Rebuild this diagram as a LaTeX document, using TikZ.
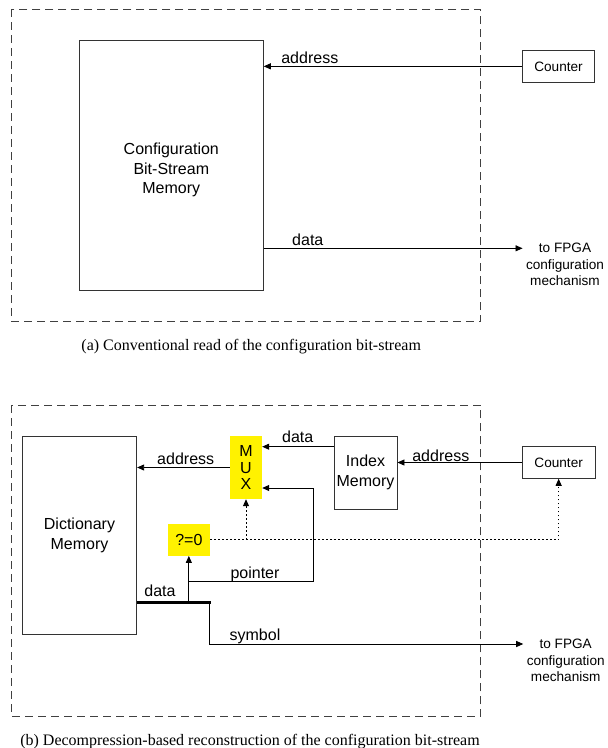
\documentclass[tikz,border=0pt]{standalone}
\usepackage{fontspec}
\setmainfont{Liberation Sans}
\newfontfamily\capfont{Liberation Serif}
\usetikzlibrary{arrows.meta,calc}

\begin{document}
\begin{tikzpicture}[x=1bp,y=-1bp,
  every node/.style={font=\fontsize{16bp}{19.5bp}\selectfont},
  block/.style={draw=black!80, line width=0.9bp, inner sep=0pt, align=center},
  hilite/.style={fill=yellow, inner sep=0pt, align=center},
  lab/.style={anchor=base, inner sep=0pt},
  small/.style={font=\fontsize{13.6bp}{16.5bp}\selectfont, align=center},
  wire/.style={line width=0.9bp, -{Triangle[length=7bp,width=6bp]}},
  ctl/.style={wire, dash pattern=on 1.5bp off 2.5bp},
  frame/.style={draw=black!75, line width=0.9bp, dash pattern=on 8bp off 5bp},
  bus/.style={line width=3bp},
  caption/.style={font=\capfont\fontsize{16bp}{19bp}\selectfont, anchor=base, inner sep=0pt}
]
\useasboundingbox (0,0) rectangle (608,748);

% ---------- (a) conventional read ----------
\draw[frame] (11.7,9.3) rectangle (480.7,321.7);
\node[block, minimum width=184bp, minimum height=250bp] (cfg) at (171.3,165.7) {};
\node[align=center] (cfgtxt) at ($(cfg.center)+(0,4.5)$)
  {Configuration\\Bit-Stream\\Memory};
\node[block, small, minimum width=72.5bp, minimum height=31.3bp] (ctrA) at (558.5,66.35) {Counter};
\node[small] (fpgaA) at (565,264.7) {to FPGA\\configuration\\mechanism};

\draw[wire] (ctrA.west) -- (ctrA.west -| cfg.east);
\draw[wire] (cfg.east |- 0,248.3) -- (fpgaA.west |- 0,248.3);

\node[lab] (addrA) at (309.8,64) {address};
\node[lab] (dataA) at (307.8,245.5) {data};
\node[caption] (capA) at (251.2,350.5) {(a) Conventional read of the configuration bit-stream};

% ---------- (b) decompression-based reconstruction ----------
\draw[frame] (11.7,405) rectangle (480.7,716.7);
\node[block, minimum width=114.4bp, minimum height=197.3bp] (dict) at (79.5,535.35)
  {Dictionary\\Memory};
\node[hilite, minimum width=32bp, minimum height=63bp,
      font=\fontsize{16bp}{16.7bp}\selectfont] (mux) at (246,467.5) {M\\U\\X};
\node[block, minimum width=63bp, minimum height=73bp] (idx) at (365.5,472.5) {Index\\Memory};
\node[block, small, minimum width=72.7bp, minimum height=31.6bp] (ctrB) at (558.65,462.5) {Counter};
\node[hilite, minimum width=42.3bp, minimum height=31.7bp] (zero) at (188.85,539.85) {?=0};
\node[small] (fpgaB) at (565.7,660.8) {to FPGA\\configuration\\mechanism};

\coordinate (busL) at (dict.east |- 0,602.7);
\coordinate (busR) at (210.7,602.7);
\coordinate (ptr) at (313,488);
\coordinate (sym) at (209.3,602.7);

\draw[wire] (ctrB.west) -- (ctrB.west -| idx.east);
\draw[wire] (idx.west |- 0,446.7) -- (mux.east |- 0,446.7);
\draw[wire] (mux.west) -- (mux.west -| dict.east);
\draw[bus] (busL) -- (busR);
\draw[wire] (zero.south |- busL) -- (zero.south);
\draw[wire] (zero.south |- 0,581.7) -| (ptr) -- (ptr -| mux.east);
\draw[wire] (sym) |- (fpgaB.west |- 0,644);
\draw[ctl] (zero.east) -| (ctrB.south);
\draw[ctl] (mux.south |- zero.east) -- (mux.south);

\node[lab] (addrB) at (440.8,461.7) {address};
\node[lab] (addrC) at (185.7,464) {address};
\node[lab] (dataB) at (297.7,442) {data};
\node[lab] (ptrlab) at (255,578) {pointer};
\node[lab] (dataC) at (160,596.5) {data};
\node[lab] (symlab) at (255,640.5) {symbol};
\node[caption] (capB) at (250,745) {(b) Decompression-based reconstruction of the configuration bit-stream};
\end{tikzpicture}
\end{document}
